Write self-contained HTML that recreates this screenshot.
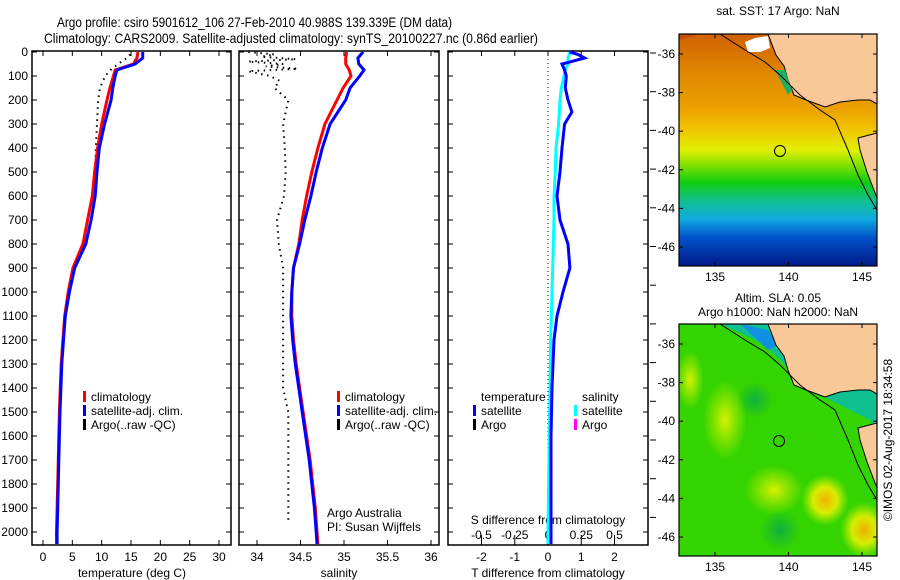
<!DOCTYPE html>
<html><head><meta charset="utf-8">
<style>
html,body{margin:0;padding:0;background:#fff;}
svg{display:block;font-family:"Liberation Sans",sans-serif;}
text{font-family:"Liberation Sans",sans-serif;fill:#000;}
</style></head>
<body>
<svg id="chart" width="900" height="580" viewBox="0 0 900 580" xmlns="http://www.w3.org/2000/svg">
<text x="57" y="27" font-size="14" textLength="395" lengthAdjust="spacingAndGlyphs">Argo profile: csiro 5901612_106 27-Feb-2010 40.988S 139.339E (DM data)</text>
<text x="44" y="43" font-size="14" textLength="494" lengthAdjust="spacingAndGlyphs">Climatology: CARS2009. Satellite-adjusted climatology: synTS_20100227.nc (0.86d earlier)</text>

<defs>
<linearGradient id="sstg" x1="0" y1="0" x2="0" y2="1">
<stop offset="0" stop-color="#d06000"/>
<stop offset="0.18" stop-color="#e08a00"/>
<stop offset="0.32" stop-color="#eca000"/>
<stop offset="0.42" stop-color="#f0c800"/>
<stop offset="0.5" stop-color="#e0f000"/>
<stop offset="0.57" stop-color="#7ae000"/>
<stop offset="0.64" stop-color="#10cc10"/>
<stop offset="0.72" stop-color="#10c090"/>
<stop offset="0.8" stop-color="#10a8e0"/>
<stop offset="0.88" stop-color="#0050c8"/>
<stop offset="1" stop-color="#001a88"/>
</linearGradient>
<radialGradient id="blob"><stop offset="0" stop-color="#f0b000"/><stop offset="0.5" stop-color="#e8f000" stop-opacity="0.9"/><stop offset="1" stop-color="#c0f000" stop-opacity="0"/></radialGradient>
<radialGradient id="blobg"><stop offset="0" stop-color="#d8f000"/><stop offset="1" stop-color="#c0f000" stop-opacity="0"/></radialGradient>
<radialGradient id="blobd"><stop offset="0" stop-color="#10b040"/><stop offset="1" stop-color="#10b040" stop-opacity="0"/></radialGradient>
<clipPath id="m1c"><rect x="679" y="34" width="198" height="232"/></clipPath>
<clipPath id="m2c"><rect x="679" y="324" width="198" height="232"/></clipPath>
</defs>

<g clip-path="url(#m1c)">
<rect x="679" y="34" width="198" height="232" fill="url(#sstg)"/>
<path d="M679,40 L700,34 L679,34Z" fill="#c05000"/>
<path d="M768,34 L776,55 L784,66 L788,80 L794,95 L806,100 L825,107 L840,102 L858,100 L870,100 L877,104 L877,34Z" fill="#f9c898" stroke="#000" stroke-width="1"/>
<path d="M877,133 L858,138 L860,150 L867,172 L877,198Z" fill="#f9c898" stroke="#000" stroke-width="1"/>
<path d="M745,42 L755,38 L768,36 L770,48 L760,52 L748,52Z" fill="#fff"/>
<path d="M775,70 L785,70 L792,90 L788,95Z" fill="#20b060"/>
<path d="M720,34 L745,50 L765,62 L780,75 L800,95 L820,110 L835,120 L848,150 L858,175 L868,195 L877,210" fill="none" stroke="#000" stroke-width="1"/>
<circle cx="780" cy="151" r="5.5" fill="none" stroke="#000" stroke-width="1"/>
</g>
<rect x="679" y="34" width="198" height="232" fill="none" stroke="#000" stroke-width="1.2"/>
<text x="778" y="15" font-size="12" text-anchor="middle">sat. SST: 17 Argo: NaN</text>

<g clip-path="url(#m2c)">
<rect x="679" y="324" width="198" height="232" fill="#33d400"/>
<ellipse cx="725" cy="420" rx="22" ry="40" fill="url(#blobg)"/>
<ellipse cx="774" cy="490" rx="30" ry="25" fill="url(#blobg)"/>
<ellipse cx="825" cy="500" rx="24" ry="26" fill="url(#blob)"/>
<ellipse cx="864" cy="530" rx="24" ry="28" fill="url(#blob)"/>
<ellipse cx="690" cy="380" rx="14" ry="30" fill="url(#blobg)"/>
<ellipse cx="755" cy="400" rx="18" ry="18" fill="url(#blobd)"/>
<ellipse cx="780" cy="530" rx="20" ry="20" fill="url(#blobd)"/>
<path d="M720,324 L745,335 L765,345 L785,365 L805,385 L830,400 L850,410 L870,420 L877,440 L877,324Z" fill="#10c090"/>
<path d="M740,324 L768,330 L778,345 L768,350 L752,335Z" fill="#1090e0"/>
<path d="M768,324 L776,345 L784,356 L788,370 L794,385 L806,390 L825,397 L840,392 L858,390 L870,390 L877,394 L877,324Z" fill="#f9c898" stroke="#000" stroke-width="1"/>
<path d="M877,423 L858,428 L860,440 L867,462 L877,488Z" fill="#f9c898" stroke="#000" stroke-width="1"/>
<path d="M720,324 L745,340 L765,352 L780,365 L800,385 L820,400 L835,410 L848,440 L858,465 L868,485 L877,500" fill="none" stroke="#000" stroke-width="1"/>
<circle cx="779" cy="441" r="5.5" fill="none" stroke="#000" stroke-width="1"/>
</g>
<rect x="679" y="324" width="198" height="232" fill="none" stroke="#000" stroke-width="1.2"/>
<text x="778" y="302" font-size="12" text-anchor="middle">Altim. SLA: 0.05</text>
<text x="778" y="316" font-size="12" text-anchor="middle">Argo h1000: NaN h2000: NaN</text>
<text x="0" y="0" font-size="12" text-anchor="middle" transform="translate(892,440) rotate(-90)">©IMOS 02-Aug-2017 18:34:58</text>
<g id="mapaxes"></g>
<g id="panels"></g>
</svg>
<script>
// ---- data ----
const depthClim = [0,25,50,75,100,150,200,300,400,500,600,700,800,900,1000,1100,1200,1300,1400,1500,1600,1700,1800,1900,2000,2050];
const tempClim  = [16.2,16.0,15.4,12.3,12.0,11.4,10.9,10.0,9.3,8.8,8.4,7.6,6.8,5.1,4.3,3.7,3.4,3.1,2.95,2.8,2.7,2.6,2.5,2.4,2.3,2.3];
const tempSat   = [17.0,17.0,15.7,12.6,12.3,11.9,11.6,10.5,9.6,9.2,8.9,8.2,7.3,5.4,4.5,3.8,3.5,3.2,3.05,2.9,2.8,2.7,2.6,2.5,2.4,2.4];
const salClim   = [35.03,35.02,35.02,35.06,35.08,34.99,34.92,34.78,34.70,34.63,34.57,34.52,34.48,34.42,34.40,34.40,34.42,34.45,34.49,34.53,34.57,34.61,34.64,34.67,34.69,34.70];
const salSat    = [35.22,35.16,35.17,35.23,35.18,35.07,35.02,34.84,34.75,34.68,34.62,34.55,34.49,34.42,34.40,34.39,34.41,34.44,34.48,34.52,34.56,34.60,34.63,34.66,34.68,34.69];
const depthArgoT = [10,25,50,75,100,150,200,300,400,500];
const tempArgo   = [14.9,14.3,12.8,11.5,10.6,9.7,9.4,9.2,9.0,8.9];
const depthArgoS = [0,10,20,30,40,50,60,70,80,100,120,150,200,250,300,400,500,600,700,800,900,1000,1200,1400,1500,1700,1950];
const salArgo    = [33.9,34.2,34.05,34.45,33.9,34.3,34.1,34.47,33.9,34.15,34.26,34.2,34.36,34.33,34.3,34.32,34.33,34.31,34.23,34.25,34.3,34.3,34.3,34.3,34.36,34.36,34.36];
const depthDiff = [0,10,25,40,50,75,100,150,200,250,300,400,500,600,700,800,900,1000,1100,1200,1400,1600,2000,2050];
const tDiffSat  = [0.65,0.9,1.1,0.7,0.42,0.5,0.55,0.52,0.6,0.72,0.5,0.42,0.36,0.27,0.36,0.6,0.66,0.45,0.27,0.18,0.12,0.09,0.09,0.09];
const sDiffSat  = [0.165,0.16,0.15,0.15,0.15,0.13,0.12,0.10,0.09,0.085,0.08,0.06,0.055,0.045,0.045,0.04,0.035,0.03,0.025,0.02,0.015,0.01,0.0,0.0];
const depthTicks = [0,100,200,300,400,500,600,700,800,900,1000,1100,1200,1300,1400,1500,1600,1700,1800,1900,2000];
const tempTicks = [0,5,10,15,20,25,30];
const salTicks = [34,34.5,35,35.5,36];
const salTickLabels = ["34","34.5","35","35.5","36"];
const tdTicks = [-2,-1,0,1,2];
const sdTicks = [-0.5,-0.25,0,0.25,0.5];
const sdTickLabels = ["-0.5","-0.25","0","0.25","0.5"];
const lonTicks = [135,140,145];
const latTicks = [-36,-38,-40,-42,-44,-46];

// ---- scales ----
const NS="http://www.w3.org/2000/svg";
const pTop=51, pBot=545;
const yD = d => 52 + d*0.24;
const xT = t => 43 + t*5.867;
const xS = s => 257 + (s-34)*87;
const xTD = v => 548 + v*33.25;
const xSD = v => 548 + v*133;
const xLon = l => 715 + (l-135)*14.7;
const yLat1 = l => 54 + (-36-l)*19.3;
const yLat2 = l => 344 + (-36-l)*19.3;
const G = document.getElementById('panels');
function el(tag, attrs, parent){ const e=document.createElementNS(NS,tag); for(const k in attrs) e.setAttribute(k,attrs[k]); (parent||G).appendChild(e); return e; }
function txt(x,y,s,anchor,size,parent){ const t=el('text',{x:x,y:y,'font-size':size||12,'text-anchor':anchor||'start'},parent); t.textContent=s; return t; }
function line(xs,ds,xf,color,dash,name){
  const pts = xs.map((v,i)=>xf(v).toFixed(1)+','+yD(ds[i]).toFixed(1)).join(' ');
  const p = el('polyline',{points:pts,fill:'none',stroke:color,'stroke-width':dash?2:3});
  
  
  if(dash){ p.setAttribute('stroke-dasharray','1.5 4.5'); }
}
function frame(x0,x1,name){
  const r = el('rect',{x:x0,y:pTop,width:x1-x0,height:pBot-pTop,fill:'none',stroke:'#000','stroke-width':1.5});
  
  
  depthTicks.forEach(d=>{ el('line',{x1:x0,x2:x0+5,y1:yD(d),y2:yD(d),stroke:'#000'}); el('line',{x1:x1-5,x2:x1,y1:yD(d),y2:yD(d),stroke:'#000'}); });
}
// panel 1
frame(32,231,'temperature-panel');
depthTicks.forEach(d=>{ const t=txt(28,yD(d)+4,String(d),'end');   });
tempTicks.forEach(v=>{ el('line',{x1:xT(v),x2:xT(v),y1:pBot,y2:pBot-5,stroke:'#000'}); el('line',{x1:xT(v),x2:xT(v),y1:pTop,y2:pTop+5,stroke:'#000'}); txt(xT(v),561,String(v),'middle'); });
const tx=txt(132,577,'temperature (deg C)','middle');  
line(tempArgo,depthArgoT,xT,'#000',true,'argo-temperature-line');
line(tempClim,depthClim,xT,'#f00',false,'climatology-temperature-line');
line(tempSat,depthClim,xT,'#00f',false,'satellite-temperature-line');
// panel 2
frame(239,439,'salinity-panel');
salTicks.forEach((v,i)=>{ el('line',{x1:xS(v),x2:xS(v),y1:pBot,y2:pBot-5,stroke:'#000'}); el('line',{x1:xS(v),x2:xS(v),y1:pTop,y2:pTop+5,stroke:'#000'}); txt(xS(v),561,salTickLabels[i],'middle'); });
const sx=txt(339,577,'salinity','middle');  
line(salArgo,depthArgoS,xS,'#000',true,'argo-salinity-line');
line(salClim,depthClim,xS,'#f00',false,'climatology-salinity-line');
line(salSat,depthClim,xS,'#00f',false,'satellite-salinity-line');
txt(327,517,'Argo Australia');
txt(327,531,'PI: Susan Wijffels');
// legends
function legend(x, items){
  items.forEach((it,i)=>{ const y=401+i*14;
    const b=el('rect',{x:x,y:y-10,width:3,height:11,fill:it[1]});
     
    const t=txt(x+8,y,it[0]);   });
}
legend(83,[['climatology','#f00'],['satellite-adj. clim.','#00f'],['Argo(..raw -QC)','#000']]);
legend(337,[['climatology','#f00'],['satellite-adj. clim.','#00f'],['Argo(..raw -QC)','#000']]);
// panel 3
frame(448,648,'difference-panel');
el('line',{x1:xTD(0),x2:xTD(0),y1:pTop,y2:pBot,stroke:'#000','stroke-dasharray':'1 3'});
tdTicks.forEach(v=>{ el('line',{x1:xTD(v),x2:xTD(v),y1:pBot,y2:pBot-5,stroke:'#000'}); el('line',{x1:xTD(v),x2:xTD(v),y1:pTop,y2:pTop+5,stroke:'#000'}); txt(xTD(v),561,String(v),'middle'); });
sdTicks.forEach((v,i)=>{ el('line',{x1:xSD(v),x2:xSD(v),y1:pBot-5,y2:pBot-10,stroke:'#000'}); txt(xSD(v),539,sdTickLabels[i],'middle'); });
txt(548,524,'S difference from climatology','middle');
const dx=txt(548,577,'T difference from climatology','middle');  
line(sDiffSat,depthDiff,xSD,'#0ff',false,'salinity-difference-line');
line(tDiffSat,depthDiff,xTD,'#00f',false,'temperature-difference-line');
txt(481,401,'temperature'); txt(582,401,'salinity');
[['satellite','#00f',473],['Argo','#000',473],['satellite','#0ff',574],['Argo','#f0f',574]].forEach((it,i)=>{
  const y=415+(i%2)*14; const b=el('rect',{x:it[2],y:y-10,width:3,height:11,fill:it[1]});
   
  const t=txt(it[2]+8,y,it[0]);  
});
for(let y=53;y<=540;y+=38.7) el('line',{x1:650,x2:656,y1:y,y2:y,stroke:'#000'});
// map axes
const MA=document.getElementById('mapaxes');
[[yLat1,34,266],[yLat2,324,556]].forEach(m=>{
  lonTicks.forEach(l=>{ el('line',{x1:xLon(l),x2:xLon(l),y1:m[2],y2:m[2]-4,stroke:'#000'},MA); el('line',{x1:xLon(l),x2:xLon(l),y1:m[1],y2:m[1]+4,stroke:'#000'},MA); txt(xLon(l),m[2]+15,String(l),'middle',12,MA); });
  latTicks.forEach(l=>{ const y=m[0](l); el('line',{x1:679,x2:683,y1:y,y2:y,stroke:'#000'},MA); el('line',{x1:873,x2:877,y1:y,y2:y,stroke:'#000'},MA); txt(675,y+4,String(l),'end',12,MA); });
});
</script>
</body></html>
